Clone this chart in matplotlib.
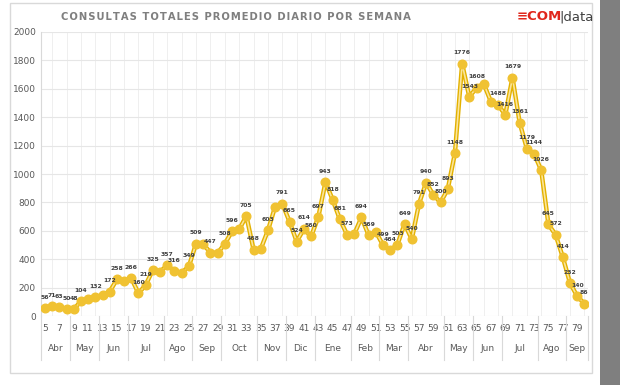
import numpy as np
import matplotlib.pyplot as plt
from matplotlib.patches import Rectangle
import matplotlib.transforms as mtransforms

# Weekly average daily queries
weeks = list(range(5, 81))
values = [56, 71, 63, 50, 48, 104, 118, 132, 148, 172, 258, 248, 266, 160, 219,
          325, 312, 357, 316, 305, 349, 509, 505, 447, 443, 508, 596, 610, 705,
          468, 472, 603, 770, 791, 665, 524, 614, 560, 697, 943, 818, 681, 573,
          577, 694, 569, 593, 499, 464, 503, 649, 540, 791, 940, 852, 800, 893,
          1148, 1776, 1543, 1608, 1635, 1510, 1488, 1416, 1679, 1361, 1179, 1144,
          1026, 645, 572, 414, 232, 140, 86]

# weeks that carry a data label
labeled = [5, 6, 7, 8, 9, 10, 12, 14, 15, 17, 18, 19, 20, 22, 23, 25, 26, 28, 30,
           31, 33, 34, 36, 38, 39, 40, 41, 42, 43, 44, 45, 46, 47, 49, 50, 52, 53,
           54, 55, 56, 57, 58, 59, 60, 61, 62, 63, 64, 65, 68, 69, 70, 71, 72, 73,
           74, 75, 76, 77, 78, 79, 80]

# month groups (name, first week, last week)
months = ['Abr', 'May', 'Jun', 'Jul', 'Ago', 'Sep', 'Oct', 'Nov', 'Dic', 'Ene',
          'Feb', 'Mar', 'Abr', 'May', 'Jun', 'Jul', 'Ago', 'Sep']
month_start = [5, 9, 13, 17, 22, 26, 30, 35, 39, 43, 48, 52, 56, 61, 65, 69, 74, 78]
month_end = [8, 12, 16, 21, 25, 29, 34, 38, 42, 47, 51, 55, 60, 64, 68, 73, 77, 80]

title = 'CONSULTAS TOTALES PROMEDIO DIARIO POR SEMANA'

fig = plt.figure(figsize=(6.2, 3.85), dpi=100)
fig.patch.set_facecolor('white')

# chart frame and the grey strip on the right
fig.patches.append(Rectangle((10 / 620, 12 / 385), 582 / 620, 370 / 385, transform=fig.transFigure,
                             fill=False, edgecolor='#d9d9d9', linewidth=1.0))
fig.patches.append(Rectangle((600 / 620, 0), 20 / 620, 1, transform=fig.transFigure,
                             facecolor='#7f7f7f', edgecolor='none'))

ax = fig.add_axes([41.4 / 620, 1 - 316 / 385, (588 - 41.4) / 620, (316 - 32) / 385])
ax.set_xlim(4.5, 80.5)
ax.set_ylim(0, 2000)

ax.set_yticks(np.arange(0, 2001, 200))
ax.set_xticks(np.arange(5, 80, 2))
ax.tick_params(axis='both', length=0, labelsize=6.5, colors='#595959', pad=4)
ax.tick_params(axis='x', pad=6)
ax.set_xticks(np.arange(5, 81, 1), minor=True)
ax.tick_params(axis='x', which='minor', length=0)
ax.grid(True, axis='y', color='#e6e6e6', linewidth=0.8)
ax.grid(True, axis='x', which='minor', color='#ececec', linewidth=0.6)
for s in ['top', 'right', 'bottom']:
    ax.spines[s].set_visible(False)
ax.spines['left'].set_color('#d9d9d9')
ax.set_axisbelow(True)

# month labels and separators under the axis
trans = mtransforms.blended_transform_factory(ax.transData, ax.transAxes)
for m, a, b in zip(months, month_start, month_end):
    ax.text((a + b) / 2, -0.115, m, transform=trans, ha='center', va='center',
            fontsize=6.5, color='#595959')
    ax.plot([a - 0.5, a - 0.5], [0, -0.155], transform=trans, color='#d9d9d9',
            linewidth=0.8, clip_on=False)
ax.plot([80.5, 80.5], [0, -0.155], transform=trans, color='#d9d9d9',
        linewidth=0.8, clip_on=False)

# line with a lighter core and round markers
ax.plot(weeks, values, color='#e3b100', linewidth=3.2, solid_joinstyle='round', zorder=3)
ax.plot(weeks, values, color='#fbe59a', linewidth=1.2, solid_joinstyle='round', zorder=4)
ax.plot(weeks, values, linestyle='none', marker='o', markersize=6.2,
        markerfacecolor='#f0c232', markeredgecolor='#f0c232', zorder=5)

for w, v in zip(weeks, values):
    if w in labeled:
        ax.annotate(str(v), (w, v), xytext=(0, 6), textcoords='offset points',
                    ha='center', va='bottom', fontsize=4.4, fontweight='bold',
                    color='#404040', zorder=6)

# title with letter spacing
fig.text(236 / 620, 1 - 17 / 385, '\u200a'.join(title),
         ha='center', va='center', fontsize=7.2, fontweight='bold', color='#7f7f7f')
fig.text(517 / 620, 1 - 17 / 385, '≡COM', ha='left', va='center', fontsize=9.5,
         fontweight='bold', color='#e0261b')
fig.text(559 / 620, 1 - 17 / 385, '|data', ha='left', va='center', fontsize=9.5,
         color='#404040')

fig.savefig('out.png', dpi=100)
